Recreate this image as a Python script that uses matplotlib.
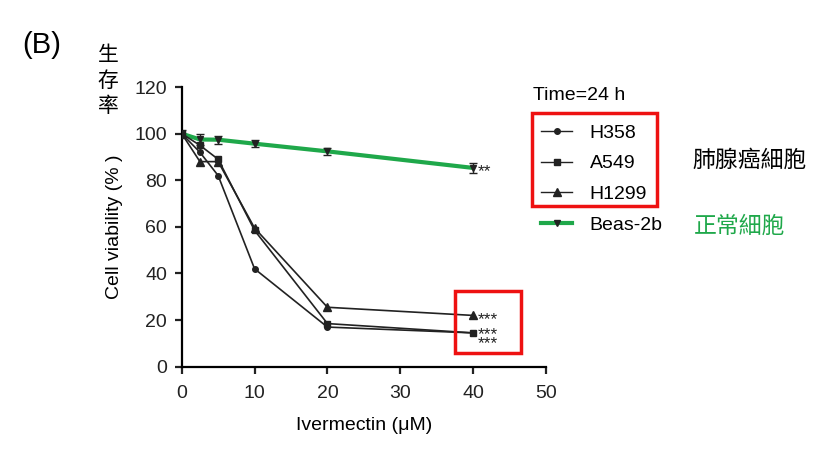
import matplotlib
matplotlib.use('Agg')
import matplotlib.pyplot as plt
from matplotlib.lines import Line2D
from matplotlib.patches import Rectangle

plt.rcParams['font.family'] = ['Liberation Sans', 'Noto Sans CJK TC']

#Data
conc = [0, 2.5, 5, 10, 20, 40]
h358 = [100, 92, 82, 42, 17, 14.5]
a549 = [100, 95, 89, 58.5, 18.5, 14.5]
h1299 = [100, 88, 88, 59.5, 25.5, 22]
beas = [100, 97.5, 97.4, 95.7, 92.4, 85.3]
beas_err = [1.5, 2.2, 1.8, 1.6, 1.5, 2.0]

series_names = ['H358', 'A549', 'H1299', 'Beas-2b']
green = '#1fa84a'
dark = '#222222'

fig = plt.figure(figsize=(8.26, 4.63), dpi=100)
ax = fig.add_axes([0.22, 0.208, 0.441, 0.604])

#Normal cells (green) below the cancer lines
ax.errorbar(conc, beas, yerr=beas_err, color=green, lw=3, marker='v', ms=5,
            mfc=dark, mec=dark, ecolor=dark, elinewidth=1, capsize=3, zorder=2)

#Cancer cell lines
ax.plot(conc, h358, color=dark, lw=1.2, marker='o', ms=4, zorder=3)
ax.plot(conc, a549, color=dark, lw=1.2, marker='s', ms=5, zorder=3)
ax.plot(conc, h1299, color=dark, lw=1.2, marker='^', ms=6, zorder=3)

#Significance stars (baseline sits below the marker so the stars look centred)
ax.annotate('**', (conc[-1], beas[-1]), xytext=(3.5, -6), textcoords='offset points',
            fontsize=12.5, va='baseline', color=dark)
ax.annotate('***', (conc[-1], h1299[-1]), xytext=(3.5, -6), textcoords='offset points',
            fontsize=12.5, va='baseline', color=dark)
ax.annotate('***\n***', (conc[-1], a549[-1]), xytext=(3.5, -11), textcoords='offset points',
            fontsize=12.5, va='baseline', color=dark, linespacing=0.5)

ax.set_xlim(0, 50)
ax.set_ylim(0, 120)
ax.set_xticks(range(0, 51, 10))
ax.set_yticks(range(0, 121, 20))
ax.spines['top'].set_visible(False)
ax.spines['right'].set_visible(False)
for s in ['left', 'bottom']:
    ax.spines[s].set_linewidth(1.6)
ax.tick_params(width=1.6, length=5, labelsize=14, colors='#222222')
ax.tick_params(axis='x', pad=8)
ax.tick_params(axis='y', pad=5.5)
ax.set_xlabel('Ivermectin (μM)', fontsize=14, labelpad=11)
ax.set_ylabel('Cell viability (% )', fontsize=14, labelpad=8)

#Legend
handles = [
    Line2D([], [], color=dark, lw=1, marker='o', ms=4),
    Line2D([], [], color=dark, lw=1, marker='s', ms=5),
    Line2D([], [], color=dark, lw=1, marker='^', ms=6),
    Line2D([], [], color=green, lw=3, marker='v', ms=5, mfc=dark, mec=dark),
]
fig.legend(handles, series_names, loc='upper left', bbox_to_anchor=(541 / 826, 1 - 124 / 463),
           frameon=False, fontsize=14, handlelength=1.6, handletextpad=0.9,
           labelspacing=0.68, borderpad=0, borderaxespad=0)
fig.text(533 / 826, 1 - 96 / 463, 'Time=24 h', fontsize=14, va='center', ha='left')

#Red boxes
fig.patches.append(Rectangle((532 / 826, 1 - 206 / 463), 125 / 826, 93 / 463,
                             transform=fig.transFigure, fill=False, ec='#ee1111', lw=2.5))
fig.patches.append(Rectangle((455 / 826, 1 - 353 / 463), 66 / 826, 62 / 463,
                             transform=fig.transFigure, fill=False, ec='#ee1111', lw=2.5))

#Chinese annotations
fig.text(692 / 826, 1 - 160 / 463, '肺腺癌細胞', fontsize=16.5, va='center', ha='left')
fig.text(694 / 826, 1 - 226 / 463, '正常細胞', fontsize=16.5, va='center', ha='left', color=green)

fig.text(22 / 826, 1 - 45 / 463, '(B)', fontsize=21, va='center', ha='left')
fig.text(108 / 826, 1 - 81 / 463, '生\n存\n率', fontsize=15, va='center', ha='center',
         linespacing=1.4)

fig.savefig('out.png', dpi=100)
